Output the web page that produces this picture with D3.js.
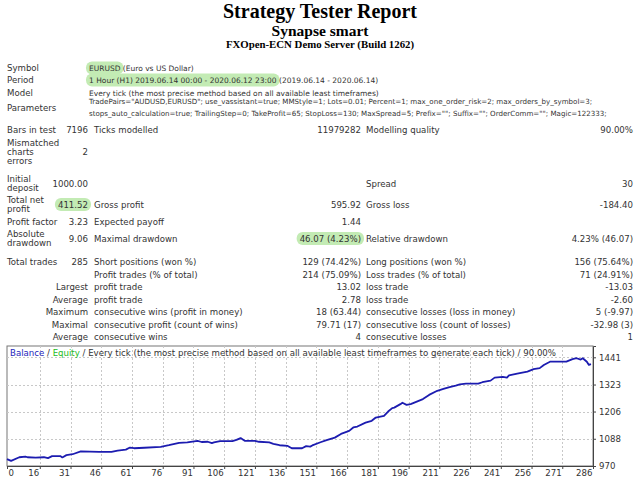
<!DOCTYPE html>
<html>
<head>
<meta charset="utf-8">
<script src="https://cdn.jsdelivr.net/npm/d3@7"></script>
<style>
  body { margin: 0; background: #fff; }
</style>
</head>
<body>
<div id="chart"></div>
<script>
var w = 640;
var h = 480;

// Header lines
var titleLines = ["Strategy Tester Report", "Synapse smart", "FXOpen-ECN Demo Server (Build 1262)"];

// Top block (label, highlighted part, plain part)
var infoLabels = ["Symbol", "Period", "Model"];
var infoMarked = ["EURUSD", "1 Hour (H1) 2019.06.14 00:00 - 2020.06.12 23:00", ""];
var infoPlain = [" (Euro vs US Dollar)", " (2019.06.14 - 2020.06.14)",
  "Every tick (the most precise method based on all available least timeframes)"];
var paramLines = [
  "TradePairs=\"AUDUSD,EURUSD\"; use_vassistant=true; MMStyle=1; Lots=0.01; Percent=1; max_one_order_risk=2; max_orders_by_symbol=3;",
  "stops_auto_calculation=true; TrailingStep=0; TakeProfit=65; StopLoss=130; MaxSpread=5; Prefix=\"\"; Suffix=\"\"; OrderComm=\"\"; Magic=122333;"
];

// Results table, one entry per row
var statLabel1 = [["Bars in test"], ["Mismatched", "charts", "errors"], ["Initial", "deposit"], ["Total net", "profit"],
  ["Profit factor"], ["Absolute", "drawdown"], ["Total trades"], [], [], [], [], [], []];
var statValue1 = ["7196", "2", "1000.00", "411.52", "3.23", "9.06", "285", "", "Largest", "Average", "Maximum", "Maximal", "Average"];
var statLabel2 = ["Ticks modelled", "", "", "Gross profit", "Expected payoff", "Maximal drawdown", "Short positions (won %)",
  "Profit trades (% of total)", "profit trade", "profit trade", "consecutive wins (profit in money)",
  "consecutive profit (count of wins)", "consecutive wins"];
var statValue2 = ["11979282", "", "", "595.92", "1.44", "46.07 (4.23%)", "129 (74.42%)", "214 (75.09%)", "13.02", "2.78",
  "18 (63.44)", "79.71 (17)", "4"];
var statLabel3 = ["Modelling quality", "", "Spread", "Gross loss", "", "Relative drawdown", "Long positions (won %)",
  "Loss trades (% of total)", "loss trade", "loss trade", "consecutive losses (loss in money)",
  "consecutive loss (count of losses)", "consecutive losses"];
var statValue3 = ["90.00%", "", "30", "-184.40", "", "4.23% (46.07)", "156 (75.64%)", "71 (24.91%)", "-13.03", "-2.60",
  "5 (-9.97)", "-32.98 (3)", "1"];
var markedValues = ["411.52", "46.07 (4.23%)"];

// Balance graph
var xTicks = [0, 16, 31, 46, 61, 76, 91, 106, 121, 136, 151, 166, 181, 196, 211, 226, 241, 256, 271, 286];
var yTicks = [970, 1088, 1206, 1323, 1441];
var trades = [0, 2, 6, 9, 10, 14, 18, 20, 22, 26, 27, 29, 32, 36, 45, 51, 54, 58, 60, 62, 67, 75, 79, 84, 88,
  93, 95, 98, 100, 101, 104, 110, 112, 114, 116, 121, 123, 128, 130, 133, 137, 139, 144, 146, 148, 149, 153, 156,
  160, 163, 167, 169, 171, 175, 178, 180, 184, 186, 188, 189, 192, 193, 195, 197, 200, 203, 206, 210, 213, 216,
  219, 221, 224, 230, 232, 236, 238, 242, 244, 245, 249, 254, 257, 260, 262, 265, 273, 276, 278, 280, 281, 283,
  284, 285];
var balance = [1000, 992, 1008, 1011, 1008, 1006, 1008, 1004, 1013, 1013, 1007, 1017, 1021, 1033, 1031, 1031, 1037,
  1041, 1050, 1047, 1049, 1053, 1060, 1070, 1072, 1079, 1074, 1075, 1069, 1072, 1078, 1078, 1083, 1091, 1079, 1079,
  1075, 1072, 1066, 1060, 1057, 1047, 1047, 1056, 1054, 1059, 1073, 1082, 1093, 1109, 1122, 1137, 1141, 1158, 1166,
  1180, 1187, 1206, 1221, 1223, 1238, 1244, 1235, 1238, 1249, 1260, 1278, 1296, 1304, 1312, 1318, 1324, 1327, 1327,
  1333, 1340, 1353, 1356, 1353, 1363, 1370, 1379, 1390, 1394, 1408, 1422, 1422, 1433, 1437, 1431, 1437, 1422, 1408,
  1411.52];
var legendParts = ["Balance", " / ", "Equity",
  " / Every tick (the most precise method based on all available least timeframes to generate each tick) / 90.00%"];

// layout
var font = "DejaVu Sans";
var fs = 8.6;      // table text
var infoFs = 7.5;  // symbol / period / model values
var paramFs = 7.1; // parameter lines
var textColor = "#333";
var markColor = "#c3ebb4";
var infoY = [68, 80, 93];
var paramY = [102, 114];
var paramLabelY = 108;
var statY = [130, 152, 183.5, 204.5, 222, 238.5, 262, 275, 287, 300, 312, 324.5, 337];
var lineH = 9;
var col = { l1: 7, v1: 88, l2: 94, v2: 361, l3: 366, v3: 633 };

var svg = d3.select("#chart")
  .append("svg")
  .attr("width", w)
  .attr("height", h)
  .style("font-family", font)
  .style("font-size", fs + "px");

// Header
var titleSizes = [20, 15.5, 10.8];
var titleY = [10.5, 30.5, 44.5];
svg.selectAll(".title")
  .data(titleLines)
  .enter()
  .append("text")
  .attr("class", "title")
  .attr("x", w / 2)
  .attr("y", (d, i) => titleY[i])
  .attr("dy", "0.35em")
  .attr("text-anchor", "middle")
  .style("font-family", "Liberation Serif")
  .style("font-weight", "bold")
  .style("font-size", (d, i) => titleSizes[i] + "px")
  .attr("fill", "#000")
  .text(d => d);

// text helper, with optional green marker behind it
function addText(x, y, str, anchor, marked, size) {
  if (!str) return 0;
  var g = svg.append("g");
  var t = g.append("text")
    .attr("x", x)
    .attr("y", y)
    .attr("dy", "0.35em")
    .attr("text-anchor", anchor || "start")
    .attr("fill", textColor)
    .style("white-space", "pre")
    .style("font-size", (size || fs) + "px")
    .text(str);
  var len = t.node().getComputedTextLength();
  if (marked) {
    var x0 = anchor === "end" ? x - len : x;
    g.insert("rect", "text")
      .attr("x", x0 - 3)
      .attr("y", y - 6.5)
      .attr("width", len + 6)
      .attr("height", 13)
      .attr("rx", 6)
      .attr("fill", markColor);
  }
  return len;
}

// Top block
infoLabels.forEach(function (lab, i) {
  addText(col.l1, infoY[i], lab);
  var len = addText(col.v1 + 1, infoY[i], infoMarked[i], "start", true, infoFs);
  addText(col.v1 + 1 + len, infoY[i], infoPlain[i], "start", false, infoFs);
});
addText(col.l1, paramLabelY, "Parameters");
paramLines.forEach(function (p, i) {
  addText(col.v1 + 1, paramY[i], p, "start", false, paramFs);
});

// Results table
statY.forEach(function (y, i) {
  var lines = statLabel1[i];
  lines.forEach(function (s, k) {
    addText(col.l1, y + (k - (lines.length - 1) / 2) * lineH, s);
  });
  addText(col.v1, y, statValue1[i], "end", markedValues.indexOf(statValue1[i]) !== -1);
  addText(col.l2, y, statLabel2[i]);
  addText(col.v2, y, statValue2[i], "end", markedValues.indexOf(statValue2[i]) !== -1);
  addText(col.l3, y, statLabel3[i]);
  addText(col.v3, y, statValue3[i], "end", markedValues.indexOf(statValue3[i]) !== -1);
});

// Balance graph
var plot = { left: 7, right: 593, top: 346, bottom: 466 };

var x = d3.scaleLinear().domain([0, 286]).range([plot.left, plot.right]);
var y = d3.scaleLinear().domain([970, 1490]).range([plot.bottom, plot.top]);

var chart = svg.append("g");

chart.append("rect")
  .attr("x", plot.left)
  .attr("y", plot.top)
  .attr("width", plot.right - plot.left)
  .attr("height", plot.bottom - plot.top)
  .attr("fill", "#fff")
  .attr("stroke", "#777")
  .attr("stroke-width", 1);

// grid
chart.selectAll(".vgrid")
  .data(xTicks.slice(1, -1))
  .enter()
  .append("line")
  .attr("x1", d => Math.round(x(d)) + 0.5)
  .attr("x2", d => Math.round(x(d)) + 0.5)
  .attr("y1", plot.top)
  .attr("y2", plot.bottom)
  .attr("stroke", "#c8c8c8")
  .attr("stroke-dasharray", "2,2");

chart.selectAll(".hgrid")
  .data(yTicks.slice(1))
  .enter()
  .append("line")
  .attr("x1", plot.left)
  .attr("x2", plot.right)
  .attr("y1", d => Math.round(y(d)) + 0.5)
  .attr("y2", d => Math.round(y(d)) + 0.5)
  .attr("stroke", "#c8c8c8")
  .attr("stroke-dasharray", "2,2");

// axes
var yAxis = d3.axisRight(y)
  .tickValues(yTicks)
  .tickSize(3)
  .tickPadding(3)
  .tickFormat(d3.format("d"));

chart.append("g")
  .attr("transform", "translate(" + plot.right + ",0)")
  .call(yAxis)
  .call(g => g.select(".domain").attr("stroke", "#444"))
  .call(g => g.selectAll("line").attr("stroke", "#444"))
  .call(g => g.selectAll("text")
    .attr("fill", textColor)
    .style("font-family", font)
    .style("font-size", fs + "px"));

var xAxis = d3.axisBottom(x)
  .tickValues(xTicks)
  .tickSize(3)
  .tickPadding(1)
  .tickFormat(d3.format("d"));

chart.append("g")
  .attr("transform", "translate(0," + plot.bottom + ")")
  .call(xAxis)
  .call(g => g.select(".domain").attr("stroke", "#444"))
  .call(g => g.selectAll("line").attr("stroke", "#444"))
  .call(g => g.selectAll("text")
    .attr("fill", textColor)
    .attr("text-anchor", (d, i) => i === 0 ? "start" : "end")
    .attr("dx", (d, i) => i === 0 ? 1 : -1)
    .style("font-family", font)
    .style("font-size", fs + "px"));

// balance line
var line = d3.line()
  .x((d, i) => x(trades[i]))
  .y(d => y(d));

chart.append("path")
  .datum(balance)
  .attr("d", line)
  .attr("fill", "none")
  .attr("stroke", "#1c1cb0")
  .attr("stroke-width", 1.8)
  .attr("stroke-linejoin", "round");

// legend
var legendColors = ["#2222bb", textColor, "#22bb22", textColor];
chart.append("text")
  .attr("x", plot.left + 3)
  .attr("y", plot.top + 7)
  .attr("dy", "0.35em")
  .selectAll("tspan")
  .data(legendParts)
  .enter()
  .append("tspan")
  .attr("fill", (d, i) => legendColors[i])
  .style("white-space", "pre")
  .text(d => d);
</script>
</body>
</html>
